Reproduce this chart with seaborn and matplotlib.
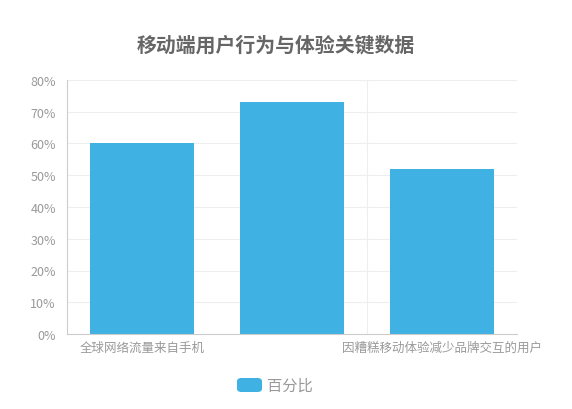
import matplotlib
matplotlib.use('Agg')
import matplotlib.pyplot as plt
from matplotlib.patches import FancyBboxPatch
import pandas as pd
import seaborn as sns

# Data
categories = ['全球网络流量来自手机', '', '因糟糕移动体验减少品牌交互的用户']
percent = [60, 73, 52]
series_name = '百分比'
title = '移动端用户行为与体验关键数据'
y_ticks = [0, 10, 20, 30, 40, 50, 60, 70, 80]

df = pd.DataFrame({'category': categories, 'value': percent})

sns.set_style('white')
plt.rcParams['font.family'] = ['Noto Sans CJK SC', 'DejaVu Sans']

bar_color = '#3fb1e3'
axis_color = '#cccccc'
grid_color = '#eeeeee'
label_color = '#999999'

fig = plt.figure(figsize=(5.72, 4.10), dpi=100)
ax = fig.add_axes([67 / 572, 1 - 335 / 410, 450 / 572, 254 / 410])

sns.barplot(data=df, x='category', y='value', order=categories,
            color=bar_color, saturation=1, width=0.69, linewidth=0, ax=ax, zorder=3)

ax.set_ylim(0, 80)
ax.set_xlim(-0.5, 2.5)
ax.set_yticks(y_ticks)
ax.set_yticklabels(['{}%'.format(v) for v in y_ticks])
ax.set_xlabel('')
ax.set_ylabel('')

# grid lines
for v in y_ticks[1:]:
    ax.axhline(v, color=grid_color, lw=0.8, zorder=1)
ax.axvline(1.5, color=grid_color, lw=0.8, zorder=1)
ax.axvline(2.5, color=grid_color, lw=0.8, zorder=1)

for side in ['top', 'right']:
    ax.spines[side].set_visible(False)
for side in ['left', 'bottom']:
    ax.spines[side].set_color(axis_color)
    ax.spines[side].set_linewidth(0.8)
ax.spines['left'].set_zorder(4)
ax.spines['bottom'].set_zorder(4)

ax.tick_params(axis='y', length=4, width=0.8, color=axis_color,
               labelcolor=label_color, labelsize=9, pad=4)
ax.tick_params(axis='x', length=0, labelcolor=label_color, labelsize=9, pad=5)

fig.text(276 / 572, 1 - 45 / 410, title, ha='center', va='center',
         fontsize=14.3, fontweight='bold', color='#666666')

# legend
fig.patches.append(FancyBboxPatch((237 / 572, 1 - 393 / 410), 25 / 572, 14 / 410,
                                  boxstyle='round,pad=0,rounding_size=0.008',
                                  transform=fig.transFigure, facecolor=bar_color,
                                  edgecolor='none'))
fig.text(267 / 572, 1 - 386 / 410, series_name, ha='left', va='center',
         fontsize=11, color='#999999')

fig.savefig('out.png', dpi=100, facecolor='white')
